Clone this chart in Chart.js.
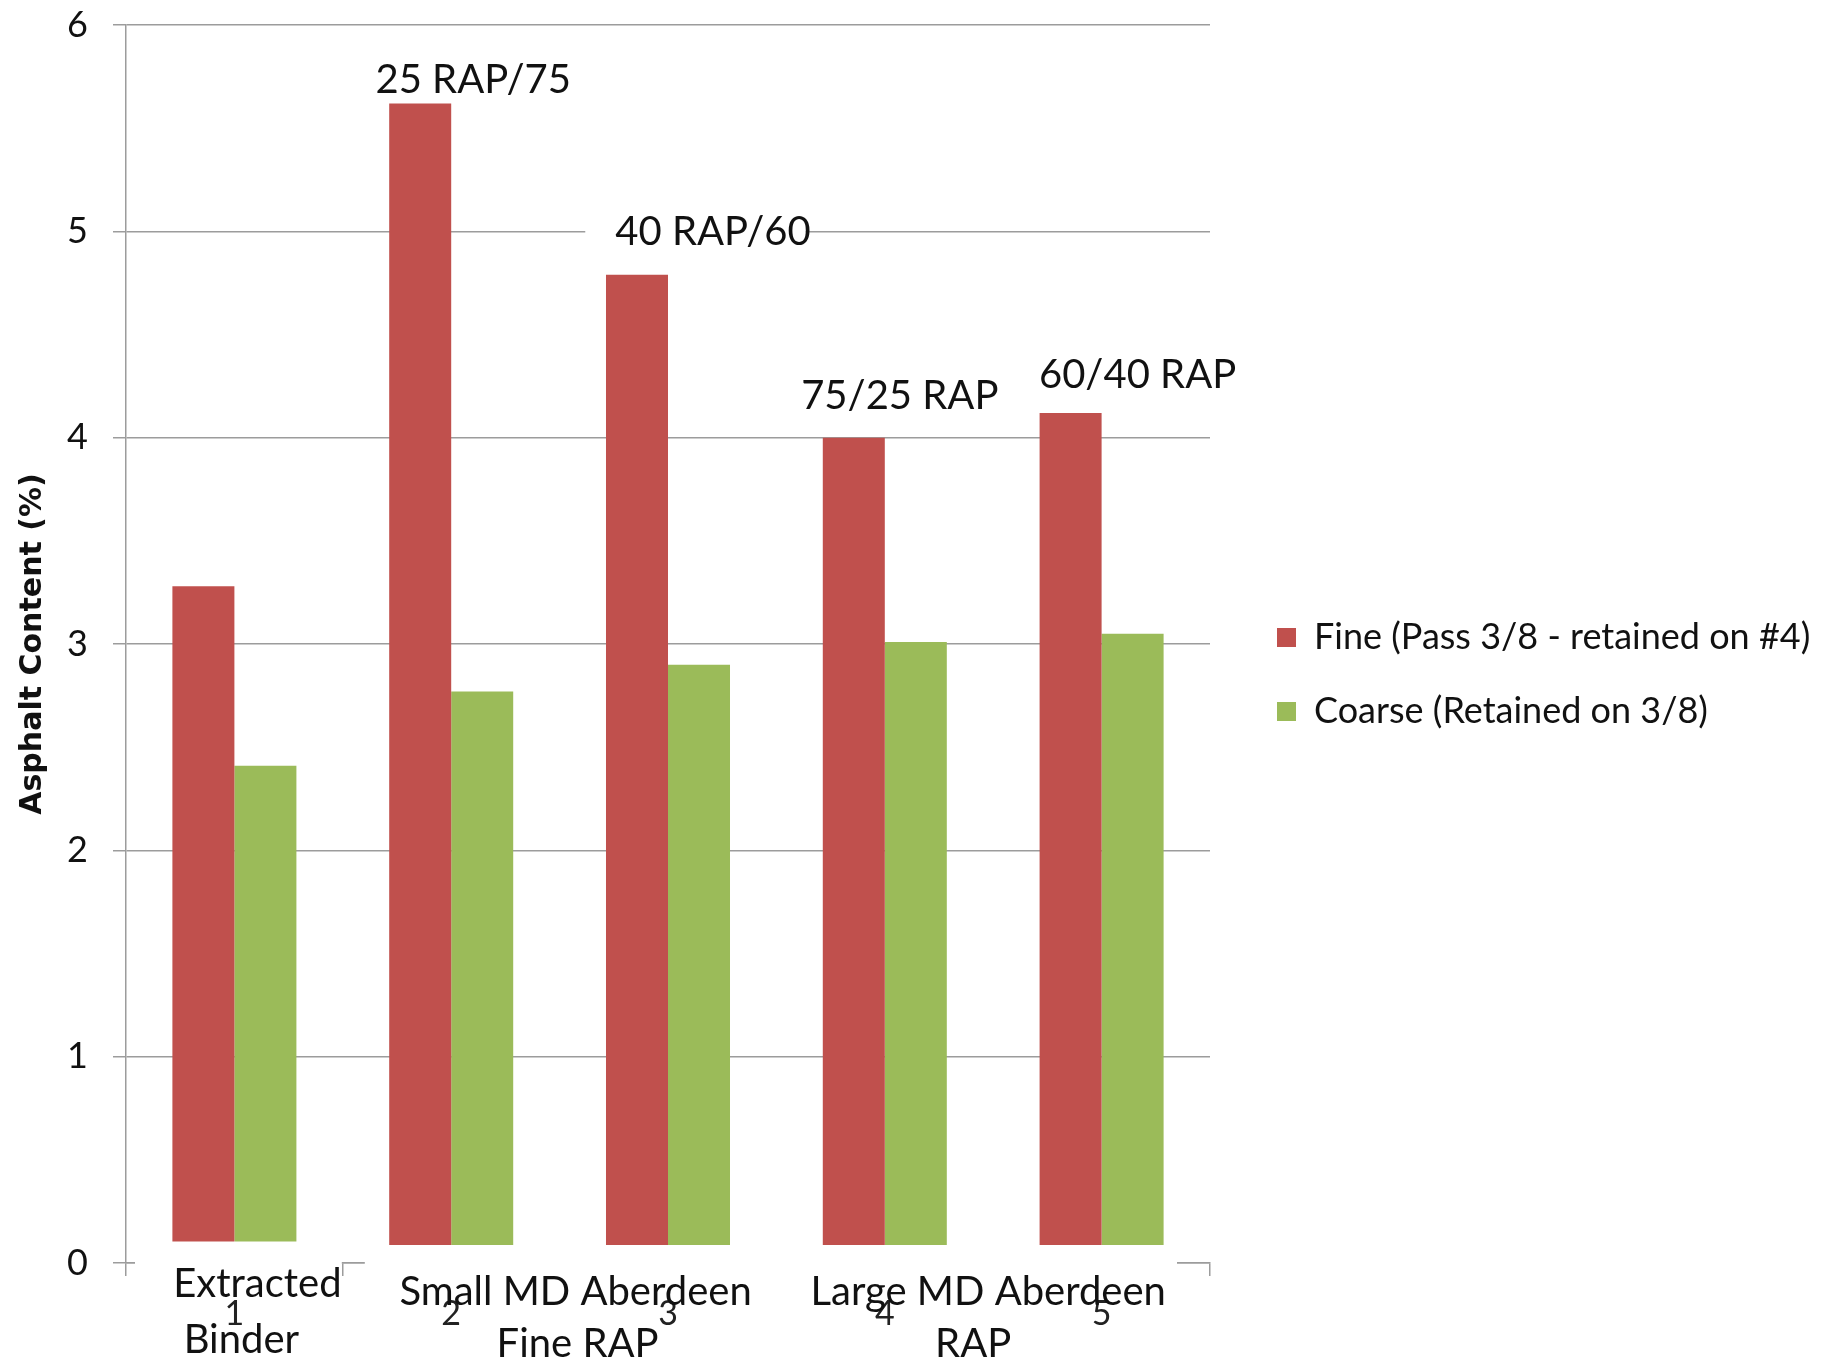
<!DOCTYPE html>
<html>
<head>
<meta charset="utf-8">
<script src="https://cdn.jsdelivr.net/npm/chart.js@4.4.0/dist/chart.umd.min.js"></script>
<style>
  html, body { margin: 0; padding: 0; background: #ffffff; }
  #wrap { width: 1845px; height: 1364px; position: relative; }
</style>
</head>
<body>
<div id="wrap"><canvas id="chart" width="1845" height="1364"></canvas></div>
<script>
// ---- data ----
const categories = ['1', '2', '3', '4', '5'];
const fineValues = [3.28, 5.62, 4.79, 4.00, 4.12];
const coarseValues = [2.41, 2.77, 2.90, 3.01, 3.05];
const seriesNames = ['Fine (Pass 3/8 - retained on #4)', 'Coarse (Retained on 3/8)'];
const yTickValues = [0, 1, 2, 3, 4, 5, 6];
const blendNotes = ['', '25 RAP/75', '40 RAP/60', '75/25 RAP', '60/40 RAP'];
const sourceNames = [['Extracted', 'Binder'], ['Small MD Aberdeen', 'Fine RAP'], ['Large MD Aberdeen', 'RAP']];
const sourceSpans = [[0, 0], [1, 2], [3, 4]];

// ---- layout / style ----
const FONT = 'Lato';
const W = 1845;
const gridColor = '#9c9c9c';
const textColor = '#111111';
const fineColor = '#C0504D';
const coarseColor = '#9BBB59';
const noteFontSize = 40;
const legendFontSize = 36;
const legendPad = 38;
const legendBox = 19;
const legendGap = 29;
const legendLift = 40;
const plotRight = 1210;
// a right-hand legend is capped at a quarter of the available width,
// so the right padding decides where the plot area ends
const padRight = W - plotRight / 0.75;

// blend notes: x offset from category centre, gap between baseline and top of the Fine bar
const blendNoteLayout = [null, { dx: 22, gap: 10 }, { dx: 45, gap: 30 }, { dx: 15, gap: 29 }, { dx: 36, gap: 25 }];
// source names: x offsets per line from group centre, baselines below the zero line, white panel edges
const sourceLayout = [
  { dx: [23, 7],   base: [34, 90], panel: { l: 9,  r: -1,  top: -21.5 } },
  { dx: [16, 18],  base: [42, 94], panel: { l: 22, r: 2,   top: -18 } },
  { dx: [-5, -20], base: [42, 94], panel: { l: 0,  r: -33, top: -18 } }
];

const notesPlugin = {
  id: 'notes',
  afterLayout(chart) {
    // let the legend use the full strip right of the plot
    const lg = chart.legend;
    lg.left = chart.chartArea.right + legendGap;
    lg.right = W;
    lg.width = lg.right - lg.left;
    lg.bottom -= legendLift;
    lg.height = lg.bottom - lg.top;
  },
  beforeDatasetsDraw(chart) {
    const ctx = chart.ctx, x = chart.scales.x, y = chart.scales.y;
    ctx.save();
    ctx.font = noteFontSize + 'px ' + FONT;
    ctx.fillStyle = '#ffffff';
    blendNotes.forEach((t, i) => {
      if (!t) return;
      const lay = blendNoteLayout[i];
      const w = ctx.measureText(t).width;
      const cx = x.getPixelForValue(i) + lay.dx;
      const base = y.getPixelForValue(fineValues[i]) - lay.gap;
      ctx.fillRect(cx - w / 2 - 30, base - 36, w + 25, 44);
    });
    ctx.restore();
  },
  afterDatasetsDraw(chart) {
    const ctx = chart.ctx, x = chart.scales.x, y = chart.scales.y;
    const y0 = y.getPixelForValue(0);
    ctx.save();
    ctx.fillStyle = '#ffffff';
    sourceSpans.forEach((span, g) => {
      const p = sourceLayout[g].panel;
      const l = x.getPixelForValue(span[0] - 0.5) + p.l;
      const r = x.getPixelForValue(span[1] + 0.5) + p.r;
      ctx.fillRect(l, y0 + p.top, r - l, chart.height - (y0 + p.top));
    });
    ctx.restore();
  },
  afterDraw(chart) {
    const ctx = chart.ctx, x = chart.scales.x, y = chart.scales.y;
    const y0 = y.getPixelForValue(0);
    ctx.save();
    ctx.font = noteFontSize + 'px ' + FONT;
    ctx.fillStyle = textColor;
    ctx.textAlign = 'center';
    ctx.textBaseline = 'alphabetic';
    blendNotes.forEach((t, i) => {
      if (!t) return;
      const lay = blendNoteLayout[i];
      ctx.fillText(t, x.getPixelForValue(i) + lay.dx, y.getPixelForValue(fineValues[i]) - lay.gap);
    });
    sourceNames.forEach((lines, g) => {
      const span = sourceSpans[g];
      const lay = sourceLayout[g];
      const mid = (x.getPixelForValue(span[0]) + x.getPixelForValue(span[1])) / 2;
      lines.forEach((ln, k) => ctx.fillText(ln, mid + lay.dx[k], y0 + lay.base[k]));
    });
    ctx.restore();
  }
};

new Chart(document.getElementById('chart'), {
  type: 'bar',
  data: {
    labels: categories,
    datasets: [
      { label: seriesNames[0], data: fineValues, backgroundColor: fineColor, borderWidth: 0 },
      { label: seriesNames[1], data: coarseValues, backgroundColor: coarseColor, borderWidth: 0 }
    ]
  },
  options: {
    responsive: false,
    animation: false,
    devicePixelRatio: 1,
    datasets: { bar: { categoryPercentage: 0.572, barPercentage: 1 } },
    layout: { padding: { top: 25, right: padRight, bottom: 0, left: 0 } },
    plugins: {
      tooltip: { enabled: false },
      legend: {
        position: 'right',
        align: 'center',
        labels: {
          boxWidth: legendBox,
          boxHeight: legendBox,
          padding: legendPad,
          color: textColor,
          font: { family: FONT, size: legendFontSize }
        }
      }
    },
    scales: {
      x: {
        type: 'category',
        offset: true,
        grid: { display: true, drawOnChartArea: false, offset: true, tickLength: 13, color: gridColor, lineWidth: 1.5 },
        border: { display: true, color: gridColor, width: 1.5 },
        ticks: { font: { family: FONT, size: 34 }, color: '#222222', padding: 18, z: 1, maxRotation: 0 },
        afterFit(s) { s.height = 101; s.paddingLeft = 0; s.paddingRight = 0; }
      },
      y: {
        min: 0,
        max: 6,
        afterBuildTicks(s) { s.ticks = yTickValues.map(v => ({ value: v })); },
        ticks: { font: { family: FONT, size: 36 }, color: textColor, padding: 25 },
        grid: { color: gridColor, lineWidth: 1.5, tickLength: 13 },
        border: { color: gridColor, width: 1.5 },
        title: {
          display: true,
          text: 'Asphalt Content (%)',
          color: textColor,
          font: { family: 'DejaVu Sans', weight: 'bold', size: 30 },
          padding: { top: 15, bottom: 0 }
        },
        afterFit(s) { s.width = 126; s.paddingTop = 0; s.paddingBottom = 0; }
      }
    }
  },
  plugins: [notesPlugin]
});
</script>
</body>
</html>
